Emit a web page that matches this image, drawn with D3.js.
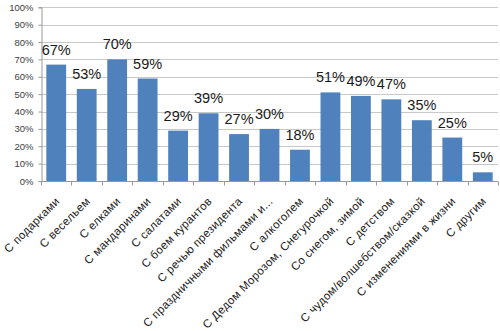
<!DOCTYPE html>
<html><head><meta charset="utf-8">
<script src="https://cdn.jsdelivr.net/npm/d3@7"></script>
<style>body{margin:0;background:#fff}svg{display:block}</style>
</head><body>
<svg id="c" width="500" height="331"></svg>
<script>
const categories = ["С подарками","С весельем","С елками","С мандаринами","С салатами","С боем курантов","С речью президента","С праздничными фильмами и...","С алкоголем","С Дедом Морозом, Снегурочкой","Со снегом, зимой","С детством","С чудом/волшебством/сказкой","С изменениями в жизни","С другим"];
const values = [67,53,70,59,29,39,27,30,18,51,49,47,35,25,5];
const yTicks = [0,10,20,30,40,50,60,70,80,90,100];

(function(){
const svg = d3.select("#c");
const mLeft = 41, mRight = 498, mTop = 7.3, mBottom = 181;
const x = d3.scaleBand().domain(categories).range([mLeft, mRight]).paddingInner(0.35).paddingOuter(0.175);
const y = d3.scaleLinear().domain([0,100]).range([mBottom, mTop]);
const font = "Liberation Sans, Arial, sans-serif";

svg.append("g").selectAll("line").data(yTicks.filter(d=>d>0)).join("line")
  .attr("x1", mLeft).attr("x2", mRight).attr("y1", d=>Math.round(y(d))+0.5).attr("y2", d=>Math.round(y(d))+0.5)
  .attr("stroke", "#c8c8c8").attr("stroke-width", 1);

const ya = svg.append("g").attr("transform", `translate(${mLeft+0.5},0)`)
  .call(d3.axisLeft(y).tickValues(yTicks).tickFormat(d=>d+"%").tickSize(3).tickPadding(5));
ya.select(".domain").attr("stroke", "#999");
ya.selectAll(".tick line").attr("stroke", "#999");
ya.selectAll("text").attr("font-family", font).attr("font-size", 9.5).attr("fill", "#404040");

svg.append("g").selectAll("rect").data(values).join("rect")
  .attr("x", (d,i)=>x(categories[i])).attr("width", x.bandwidth())
  .attr("y", d=>y(d)).attr("height", d=>mBottom - y(d))
  .attr("fill", "#4F81BD");

const step = x.step();
const xa = svg.append("g").attr("transform", `translate(0,${Math.round(mBottom)+0.5})`);
xa.append("line").attr("x1", mLeft).attr("x2", mRight).attr("stroke", "#999");
xa.selectAll("line.t").data(d3.range(categories.length+1)).join("line").attr("class","t")
  .attr("x1", i=>Math.round(mLeft + i*step)+0.5).attr("x2", i=>Math.round(mLeft + i*step)+0.5)
  .attr("y1", 0).attr("y2", 4).attr("stroke", "#999");

svg.append("g").selectAll("text").data(categories).join("text")
  .attr("transform", d=>`translate(${x(d)+x.bandwidth()/2+4},${mBottom+21}) rotate(-45)`)
  .attr("text-anchor", "end")
  .attr("font-family", font).attr("font-size", 11.5).attr("letter-spacing", 0.3).attr("fill", "#1a1a1a")
  .text(d=>d);

svg.append("g").selectAll("text").data(values).join("text")
  .attr("x", (d,i)=>x(categories[i])+x.bandwidth()/2)
  .attr("y", d=>y(d)-10)
  .attr("text-anchor", "middle")
  .attr("font-family", font).attr("font-size", 14.5).attr("fill", "#1a1a1a")
  .text(d=>d+"%");
})();
</script>
</body></html>
